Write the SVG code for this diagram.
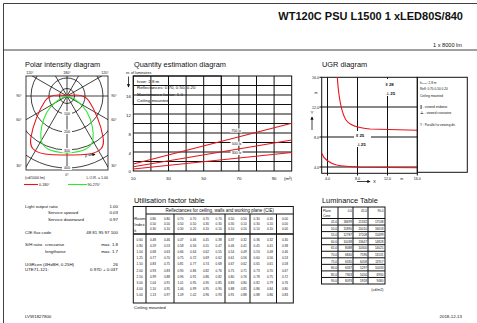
<svg xmlns="http://www.w3.org/2000/svg" width="477" height="323" viewBox="0 0 477 323">
<style>
text{font-family:"Liberation Sans",Arial,sans-serif;fill:#111}
.ttl{font-size:11px;font-weight:bold}
.h{font-size:7.4px}
.s{font-size:4.4px}
.xs{font-size:3.6px}
.t{font-size:3.1px;fill:#333}
.g{fill:none;stroke:#111;stroke-width:0.8}
.gt{fill:none;stroke:#111;stroke-width:1}
.red{fill:none;stroke:#e8141c;stroke-width:1.1}
.grn{fill:none;stroke:#2ee82e;stroke-width:1.1}
</style>
<defs>
<clipPath id="pc"><rect x="26" y="76" width="82" height="94"/></clipPath>
<marker id="ah" viewBox="0 0 6 6" refX="5" refY="3" markerWidth="4" markerHeight="4" orient="auto"><path d="M0,0 L6,3 L0,6 z" fill="#111"/></marker>
</defs>
<rect width="477" height="323" fill="#fff"/>
<g id="frame">
<line x1="3.5" y1="3.5" x2="477" y2="3.5" class="g"/>
<line x1="3.5" y1="3.5" x2="3.5" y2="323" class="g"/>
<line x1="3.5" y1="50" x2="477" y2="50" class="g"/>
<text x="463" y="20" text-anchor="end" class="ttl">WT120C PSU L1500 1 xLED80S/840</text>
<text x="462" y="47" text-anchor="end" style="font-size:5.6px">1 x 8000 lm</text>
</g>
<g id="polar">
<text x="25" y="67" class="h">Polar intensity diagram</text>
<g clip-path="url(#pc)" class="g">
<circle cx="67" cy="96" r="7.5"/>
<circle cx="67" cy="96" r="18"/>
<circle cx="67" cy="96" r="36"/>
<circle cx="67" cy="96" r="54"/>
<circle cx="67" cy="96" r="72"/>
<line x1="67" y1="0" x2="67" y2="200"/>
<line x1="0" y1="96" x2="140" y2="96"/>
<line x1="67" y1="96" x2="-8" y2="226"/>
<line x1="67" y1="96" x2="142" y2="226"/>
<line x1="67" y1="96" x2="-63" y2="171"/>
<line x1="67" y1="96" x2="197" y2="171"/>
<line x1="67" y1="96" x2="-63" y2="21"/>
<line x1="67" y1="96" x2="197" y2="21"/>
<line x1="67" y1="96" x2="-8" y2="-34"/>
<line x1="67" y1="96" x2="142" y2="-34"/>
</g>
<rect x="26" y="76" width="82" height="94" class="g"/>
<path class="red" d="M67,96 C58,94 49,95 45,101 C39,110 33,125 31,137 C29,147 33,152 45,154 C55,155.5 62,155 67,155 C72,155 79,155.5 89,154 C101,152 105,147 103,137 C101,125 95,110 89,101 C85,95 76,94 67,96 Z"/>
<path class="grn" d="M67,96 C60,98 52,104 47,112 C42,121 40,132 41,139 C42,148 50,152 67,153 C84,152 92,148 93,139 C94,132 92,121 87,112 C82,104 74,98 67,96 Z"/>
<g fill="#fff"><rect x="62" y="111" width="10" height="4.5"/><rect x="62" y="129.5" width="10" height="4.5"/><rect x="62" y="148" width="10" height="4.5"/><rect x="62" y="166" width="10" height="4"/></g>
<g class="xs" text-anchor="middle">
<text x="67" y="114.5">100</text><text x="67" y="133">200</text><text x="67" y="151.5">300</text><text x="67" y="169.3">400</text>
<text x="30" y="73.5">120°</text><text x="67" y="73.5">180°</text><text x="105" y="73.5">120°</text>
<text x="19" y="97">90°</text><text x="19" y="121">60°</text><text x="19" y="167">30°</text>
<text x="114" y="97">90°</text><text x="114" y="121">60°</text><text x="114" y="167">30°</text>
<text x="67" y="175.5">0°</text>
</g>
<text x="85" y="156.5" class="xs">β</text>
<line x1="88.5" y1="155.3" x2="95" y2="154.3" class="g" stroke-width="0.6" marker-end="url(#ah)"/>
<text x="25" y="179" class="xs">(cd/1000 lm)</text>
<text x="108" y="179" class="xs" text-anchor="end">L.O.R. = 1.00</text>
<line x1="24" y1="184.5" x2="38" y2="184.5" class="red"/>
<text x="39" y="185.8" class="xs">0-180°</text>
<line x1="68" y1="184.5" x2="87" y2="184.5" class="grn"/>
<text x="87.5" y="185.8" class="xs">90-270°</text>
</g>
<g id="quantity">
<text x="134" y="67" class="h">Quantity estimation diagram</text>
<text x="126" y="73.5" class="xs">nr. of luminaires</text>
<line x1="128.5" y1="76.5" x2="128.5" y2="87" class="g" marker-end="url(#ah)"/>
<g class="gt">
<rect x="133.3" y="76" width="158.4" height="95"/>
<path d="M150.9,76V171M168.5,76V171M186.1,76V171M203.7,76V171M221.3,76V171M238.9,76V171M256.5,76V171M274.1,76V171"/>
<path d="M133.3,85.5H291.7M133.3,95H291.7M133.3,104.5H291.7M133.3,114H291.7M133.3,123.5H291.7M133.3,133H291.7M133.3,142.5H291.7M133.3,152H291.7M133.3,161.5H291.7"/>
</g>
<rect x="133.3" y="76" width="88" height="28.5" fill="#fff" class="gt"/>
<g class="s">
<text x="137" y="82.5">h<tspan style="font-size:2.8px" dy="0.8">room</tspan><tspan dy="-0.8">: 2.8 m</tspan></text>
<text x="137" y="89">Reflectances: 0.70, 0.50, 0.20</text>
<text x="137" y="95.5">Maintenance factor: 1.0</text>
<text x="137" y="102">Ceiling mounted</text>
</g>
<line x1="133.3" y1="164" x2="291.7" y2="123.3" class="red"/>
<line x1="133.3" y1="166.7" x2="291.7" y2="140" class="red"/>
<line x1="133.3" y1="169" x2="291.7" y2="152.5" class="red"/>
<g fill="#fff"><rect x="230" y="128.5" width="12" height="4"/><rect x="230.5" y="141.6" width="12" height="4"/><rect x="230.5" y="151" width="12" height="4"/></g>
<g class="xs" text-anchor="middle">
<text x="236" y="131.8">750 lx</text><text x="236.5" y="145">500 lx</text><text x="236.5" y="154.4">300 lx</text>
</g>
<g class="s" text-anchor="end">
<text x="131" y="97.5">16</text><text x="131" y="116.5">12</text><text x="131" y="135.5">8</text><text x="131" y="154.5">4</text><text x="131" y="173">0</text>
</g>
<g class="s" text-anchor="middle">
<text x="133.3" y="179.5">10</text><text x="168.5" y="179.5">30</text><text x="203.7" y="179.5">50</text><text x="238.9" y="179.5">70</text><text x="274.1" y="179.5">90</text><text x="288" y="179.5">(m²)</text>
</g>
</g>
<g id="ugr">
<text x="322" y="67" class="h">UGR diagram</text>
<g class="gt">
<rect x="321.7" y="77.3" width="95.6" height="96"/>
<path d="M327.5,77.3V175.5M357.5,77.3V175.5M387.5,77.3V175.5M417.3,173.3V175.5"/>
<path d="M319.5,107H417.3M319.5,137H417.3M319.5,167H417.3M319.5,77.3H321.7"/>
</g>
<g fill="#fff"><rect x="384" y="79" width="16" height="17"/><rect x="354" y="131" width="17" height="16"/></g>
<path class="red" d="M337.3,77.3 C338.5,95 341,112 346,120 C350,126 358,128 370,129 L417.3,130.3"/>
<path class="red" d="M321.7,153.3 C323.5,158 327,162.5 336.7,165 C343,166.3 350,166.7 360,167.2 L417.3,167.8"/>
<g style="font-size:4.4px;font-weight:bold;font-family:'DejaVu Sans',sans-serif">
<text x="385.5" y="86">‖ 28</text><text x="386" y="94.5">⊥ 25</text>
<text x="356" y="137">‖ 25</text><text x="356.5" y="145.5">⊥ 25</text>
</g>
<rect x="417.3" y="77.3" width="50" height="95" class="gt"/>
<g style="font-size:3.2px">
<text x="420" y="83.5">h<tspan style="font-size:2.2px" dy="0.6">room</tspan><tspan dy="-0.6">: 2.8 m</tspan></text>
<text x="420" y="90">Refl: 0.70 0.50 0.20</text>
<text x="420" y="96.5">Ceiling mounted</text>
<text x="420" y="107.5"><tspan style="font-weight:bold;font-family:'DejaVu Sans',sans-serif;font-size:4px">‖</tspan> - viewed endwise</text>
<text x="420" y="114"><tspan style="font-weight:bold;font-family:'DejaVu Sans',sans-serif;font-size:4px">⊥</tspan> - viewed crosswise</text>
<text x="420" y="126">Y  : Parallel to viewing dir.</text>
</g>
<g class="xs" text-anchor="end">
<text x="319" y="79">16.0</text><text x="319" y="108.5">12.0</text><text x="319" y="138.5">8.0</text><text x="319" y="168.5">4.0</text>
</g>
<text x="316" y="93.5" class="xs" text-anchor="middle">m</text>
<text x="312" y="114" class="s" text-anchor="middle">Y</text>
<line x1="312" y1="130" x2="312" y2="117" class="g" marker-end="url(#ah)"/>
<g class="xs" text-anchor="middle">
<text x="327.5" y="179.5">4.0</text><text x="357.5" y="179.5">8.0</text><text x="387.5" y="179.5">12.0</text><text x="417.3" y="179.5">16.0</text><text x="401.7" y="179.5">m</text>
</g>
<line x1="357" y1="181.5" x2="370" y2="181.5" class="g" marker-end="url(#ah)"/>
<text x="373" y="183" class="s">X</text>
</g>
<g id="info" class="s">
<text x="25" y="207.5">Light output ratio</text><text x="118" y="207.5" text-anchor="end">1.00</text>
<text x="48" y="214">Service upward</text><text x="118" y="214" text-anchor="end">0.03</text>
<text x="48" y="220.5">Service downward</text><text x="118" y="220.5" text-anchor="end">0.97</text>
<text x="25" y="234">CIE flux code</text><text x="118" y="234" text-anchor="end">48 81 95 97 100</text>
<text x="25" y="245.5">S/H ratio</text><text x="45" y="245.5">crosswise</text><text x="118" y="245.5" text-anchor="end">max. 1.8</text>
<text x="45" y="252.5">lengthwise</text><text x="118" y="252.5" text-anchor="end">max. 1.7</text>
<text x="25" y="265.5">UGRcen (4HxBH, 0.25H)</text><text x="118" y="265.5" text-anchor="end">26</text>
<text x="25" y="270.5">UTE71-121:</text><text x="118" y="270.5" text-anchor="end">0.97D + 0.03T</text>
<text x="25" y="317.5">LVW1827800</text>
<text x="462" y="317.5" text-anchor="end">2018-12-13</text>
</g>
<g id="utilisation">
<text x="134" y="202.5" class="h">Utilisation factor table</text>
<g class="gt">
<rect x="133.3" y="206.5" width="160" height="96.5"/>
<path d="M146,206.5V303M174,214V303M225,214V303M250,214V303M276.5,214V303M146,214H293.3"/>
<path d="M133.3,234H293.3" stroke-width="1.3"/>
</g>
<text x="219.7" y="212" style="font-size:4.5px" text-anchor="middle">Reflectances for ceiling, walls and working plane (CIE)</text>
<g style="font-size:4.2px"><text x="134.3" y="219.5">Room</text><text x="134.3" y="225.5">Index</text><text x="134.3" y="231.5">k</text></g>
<g class="t" text-anchor="middle">
<text y="219.5"><tspan x="153">0.80</tspan><tspan x="167">0.80</tspan><tspan x="180.4">0.70</tspan><tspan x="193.1">0.70</tspan><tspan x="205.9">0.70</tspan><tspan x="218.6">0.70</tspan><tspan x="231.2">0.50</tspan><tspan x="243.8">0.50</tspan><tspan x="256.6">0.30</tspan><tspan x="269.9">0.30</tspan><tspan x="285">0.00</tspan></text>
<text y="224.5"><tspan x="153">0.50</tspan><tspan x="167">0.50</tspan><tspan x="180.4">0.50</tspan><tspan x="193.1">0.50</tspan><tspan x="205.9">0.30</tspan><tspan x="218.6">0.30</tspan><tspan x="231.2">0.30</tspan><tspan x="243.8">0.10</tspan><tspan x="256.6">0.30</tspan><tspan x="269.9">0.10</tspan><tspan x="285">0.00</tspan></text>
<text y="229.5"><tspan x="153">0.30</tspan><tspan x="167">0.10</tspan><tspan x="180.4">0.30</tspan><tspan x="193.1">0.20</tspan><tspan x="205.9">0.10</tspan><tspan x="218.6">0.10</tspan><tspan x="231.2">0.10</tspan><tspan x="243.8">0.10</tspan><tspan x="256.6">0.10</tspan><tspan x="269.9">0.10</tspan><tspan x="285">0.00</tspan></text>
<text y="241"><tspan x="139.6">0.60</tspan><tspan x="153">0.48</tspan><tspan x="167">0.46</tspan><tspan x="180.4">0.47</tspan><tspan x="193.1">0.46</tspan><tspan x="205.9">0.45</tspan><tspan x="218.6">0.38</tspan><tspan x="231.2">0.37</tspan><tspan x="243.8">0.32</tspan><tspan x="256.6">0.36</tspan><tspan x="269.9">0.32</tspan><tspan x="285">0.30</tspan></text>
<text y="247.1"><tspan x="139.6">0.80</tspan><tspan x="153">0.59</tspan><tspan x="167">0.53</tspan><tspan x="180.4">0.58</tspan><tspan x="193.1">0.56</tspan><tspan x="205.9">0.55</tspan><tspan x="218.6">0.47</tspan><tspan x="231.2">0.46</tspan><tspan x="243.8">0.41</tspan><tspan x="256.6">0.45</tspan><tspan x="269.9">0.41</tspan><tspan x="285">0.38</tspan></text>
<text y="253.2"><tspan x="139.6">1.00</tspan><tspan x="153">0.68</tspan><tspan x="167">0.63</tspan><tspan x="180.4">0.66</tspan><tspan x="193.1">0.64</tspan><tspan x="205.9">0.62</tspan><tspan x="218.6">0.55</tspan><tspan x="231.2">0.54</tspan><tspan x="243.8">0.49</tspan><tspan x="256.6">0.53</tspan><tspan x="269.9">0.48</tspan><tspan x="285">0.46</tspan></text>
<text y="259.3"><tspan x="139.6">1.25</tspan><tspan x="153">0.77</tspan><tspan x="167">0.70</tspan><tspan x="180.4">0.75</tspan><tspan x="193.1">0.72</tspan><tspan x="205.9">0.69</tspan><tspan x="218.6">0.62</tspan><tspan x="231.2">0.61</tspan><tspan x="243.8">0.56</tspan><tspan x="256.6">0.60</tspan><tspan x="269.9">0.56</tspan><tspan x="285">0.53</tspan></text>
<text y="265.4"><tspan x="139.6">1.50</tspan><tspan x="153">0.83</tspan><tspan x="167">0.75</tspan><tspan x="180.4">0.81</tspan><tspan x="193.1">0.77</tspan><tspan x="205.9">0.74</tspan><tspan x="218.6">0.68</tspan><tspan x="231.2">0.67</tspan><tspan x="243.8">0.62</tspan><tspan x="256.6">0.65</tspan><tspan x="269.9">0.61</tspan><tspan x="285">0.58</tspan></text>
<text y="271.5"><tspan x="139.6">2.00</tspan><tspan x="153">0.93</tspan><tspan x="167">0.83</tspan><tspan x="180.4">0.90</tspan><tspan x="193.1">0.86</tspan><tspan x="205.9">0.82</tspan><tspan x="218.6">0.76</tspan><tspan x="231.2">0.75</tspan><tspan x="243.8">0.71</tspan><tspan x="256.6">0.73</tspan><tspan x="269.9">0.70</tspan><tspan x="285">0.67</tspan></text>
<text y="277.6"><tspan x="139.6">2.50</tspan><tspan x="153">0.99</tspan><tspan x="167">0.88</tspan><tspan x="180.4">0.96</tspan><tspan x="193.1">0.91</tspan><tspan x="205.9">0.86</tspan><tspan x="218.6">0.82</tspan><tspan x="231.2">0.80</tspan><tspan x="243.8">0.76</tspan><tspan x="256.6">0.78</tspan><tspan x="269.9">0.75</tspan><tspan x="285">0.72</tspan></text>
<text y="283.7"><tspan x="139.6">3.00</tspan><tspan x="153">1.04</tspan><tspan x="167">0.91</tspan><tspan x="180.4">1.01</tspan><tspan x="193.1">0.95</tspan><tspan x="205.9">0.90</tspan><tspan x="218.6">0.85</tspan><tspan x="231.2">0.83</tspan><tspan x="243.8">0.80</tspan><tspan x="256.6">0.82</tspan><tspan x="269.9">0.79</tspan><tspan x="285">0.76</tspan></text>
<text y="289.8"><tspan x="139.6">4.00</tspan><tspan x="153">1.10</tspan><tspan x="167">0.95</tspan><tspan x="180.4">1.06</tspan><tspan x="193.1">0.99</tspan><tspan x="205.9">0.95</tspan><tspan x="218.6">0.90</tspan><tspan x="231.2">0.88</tspan><tspan x="243.8">0.85</tspan><tspan x="256.6">0.86</tspan><tspan x="269.9">0.84</tspan><tspan x="285">0.80</tspan></text>
<text y="295.9"><tspan x="139.6">5.00</tspan><tspan x="153">1.13</tspan><tspan x="167">0.97</tspan><tspan x="180.4">1.09</tspan><tspan x="193.1">1.02</tspan><tspan x="205.9">0.96</tspan><tspan x="218.6">0.93</tspan><tspan x="231.2">0.91</tspan><tspan x="243.8">0.88</tspan><tspan x="256.6">0.88</tspan><tspan x="269.9">0.86</tspan><tspan x="285">0.83</tspan></text>
</g>
<text x="134" y="309" class="s">Ceiling mounted</text>
</g>
<g id="luminance">
<text x="322" y="202.5" class="h">Luminance Table</text>
<g class="gt">
<rect x="321.5" y="207" width="63.5" height="77"/>
<path d="M338,207V284M353,207V284M368,207V284"/>
<path d="M321.5,218.5H385M321.5,225.05H385M321.5,231.6H385M321.5,238.15H385M321.5,244.7H385M321.5,251.25H385M321.5,257.8H385M321.5,264.35H385M321.5,270.9H385M321.5,277.45H385"/>
</g>
<g class="t">
<text x="323" y="211.8">Plane</text><text x="323" y="217">Cone</text>
</g>
<g class="t" text-anchor="end">
<text y="212"><tspan x="352">0.0</tspan><tspan x="367">45.0</tspan><tspan x="383.5">90.0</tspan></text>
<text y="223.2"><tspan x="337">45.0</tspan><tspan x="352">18699</tspan><tspan x="367">21332</tspan><tspan x="383.5">17538</tspan></text>
<text y="229.75"><tspan x="337">50.0</tspan><tspan x="352">15890</tspan><tspan x="367">20010</tspan><tspan x="383.5">16618</tspan></text>
<text y="236.3"><tspan x="337">55.0</tspan><tspan x="352">12787</tspan><tspan x="367">17208</tspan><tspan x="383.5">15699</tspan></text>
<text y="242.85"><tspan x="337">60.0</tspan><tspan x="352">10038</tspan><tspan x="367">13647</tspan><tspan x="383.5">14828</tspan></text>
<text y="249.4"><tspan x="337">65.0</tspan><tspan x="352">8088</tspan><tspan x="367">10300</tspan><tspan x="383.5">14025</tspan></text>
<text y="255.95"><tspan x="337">70.0</tspan><tspan x="352">6840</tspan><tspan x="367">7596</tspan><tspan x="383.5">13131</tspan></text>
<text y="262.5"><tspan x="337">75.0</tspan><tspan x="352">6335</tspan><tspan x="367">6058</tspan><tspan x="383.5">11917</tspan></text>
<text y="269.05"><tspan x="337">80.0</tspan><tspan x="352">6337</tspan><tspan x="367">5297</tspan><tspan x="383.5">10033</tspan></text>
<text y="275.6"><tspan x="337">85.0</tspan><tspan x="352">7363</tspan><tspan x="367">5050</tspan><tspan x="383.5">6930</tspan></text>
<text y="282.15"><tspan x="337">90.0</tspan><tspan x="352">8093</tspan><tspan x="367">5918</tspan><tspan x="383.5">9480</tspan></text>
</g>
<text x="383.5" y="290.5" class="xs" text-anchor="end">(cd/m2)</text>
</g>
</svg>
